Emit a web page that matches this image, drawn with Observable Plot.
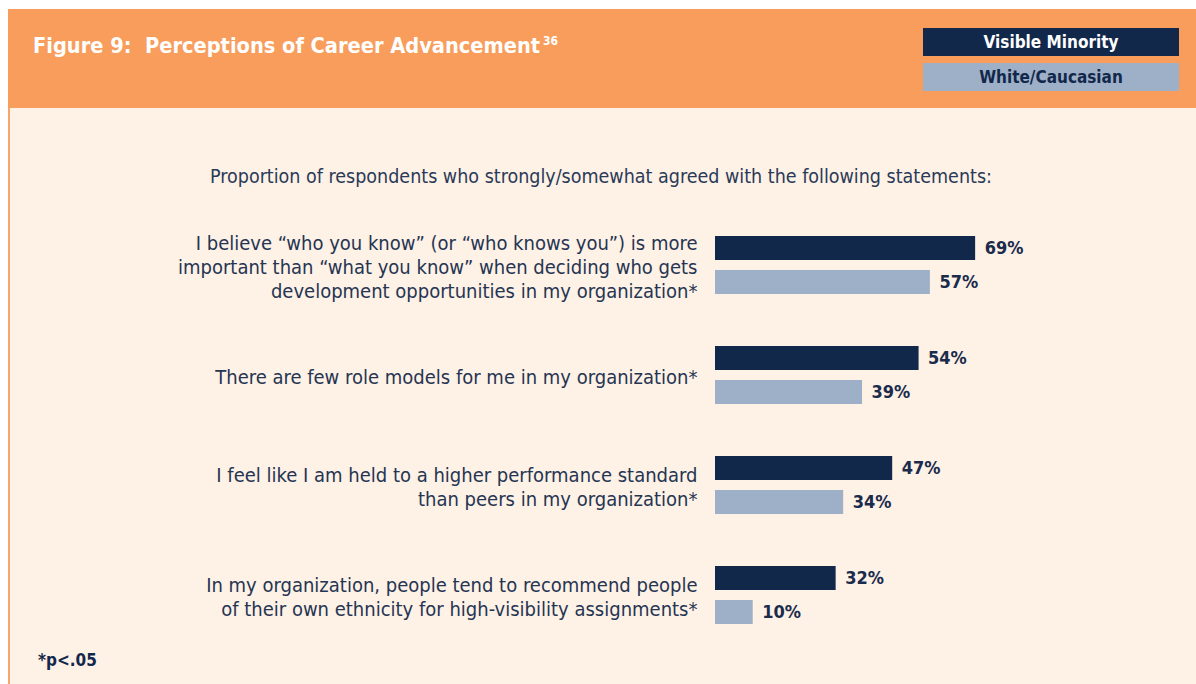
<!DOCTYPE html>
<html>
<head>
<meta charset="utf-8">
<script src="https://cdn.jsdelivr.net/npm/d3@7"></script>
<script src="https://cdn.jsdelivr.net/npm/@observablehq/plot@0.6"></script>
<style>
  html, body { margin:0; padding:0; background:#ffffff; }
  body { width:1196px; height:684px; position:relative; overflow:hidden;
         font-family:"Liberation Sans Narrow","DejaVu Sans Condensed","Roboto Condensed",Roboto,sans-serif; font-stretch:condensed; }
  #header { position:absolute; left:8px; top:9px; width:1200px; height:99px; background:#F89D5B; }
  #body { position:absolute; left:8px; top:108px; width:1200px; height:600px; background:#FEF1E6; border-left:2px solid #F7A56A; box-sizing:border-box; }
  #title { position:absolute; left:33px; top:33px; color:#ffffff; font-weight:bold; font-size:21.6px; white-space:pre; }
  #title sup { font-size:12px; vertical-align:top; position:relative; top:1px; margin-left:3px; }
  .leg { position:absolute; left:923px; width:256px; height:28px; line-height:29px; text-align:center; font-weight:bold; font-size:17px; }
  #leg1 { top:28px; background:#12284B; color:#ffffff; }
  #leg2 { top:63px; background:#9EB0C7; color:#12284B; }
  #subtitle { position:absolute; left:0; width:1202px; top:165px; text-align:center; font-size:19.5px; color:#2A3A57; }
  #chart { position:absolute; left:0; top:220px; }
  #foot { position:absolute; left:38px; top:650px; font-weight:bold; font-size:17px; color:#12284B; }
</style>
</head>
<body>
<div id="header"></div>
<div id="body"></div>
<div id="title">Figure 9:  Perceptions of Career Advancement<sup>36</sup></div>
<div class="leg" id="leg1">Visible Minority</div>
<div class="leg" id="leg2">White/Caucasian</div>
<div id="subtitle">Proportion of respondents who strongly/somewhat agreed with the following statements:</div>
<div id="chart"></div>
<div id="foot">*p&lt;.05</div>
<script>
const statements = [
  "I believe “who you know” (or “who knows you”) is more\nimportant than “what you know” when deciding who gets\ndevelopment opportunities in my organization*",
  "There are few role models for me in my organization*",
  "I feel like I am held to a higher performance standard\nthan peers in my organization*",
  "In my organization, people tend to recommend people\nof their own ethnicity for high-visibility assignments*"
];
const seriesNames = ["Visible Minority", "White/Caucasian"];
const visibleMinority = [69, 54, 47, 32];
const whiteCaucasian = [57, 39, 34, 10];
const seriesColors = ["#12284B", "#9EB0C7"];

const data = statements.flatMap((s, i) => [
  {statement: s, group: seriesNames[0], value: visibleMinority[i]},
  {statement: s, group: seriesNames[1], value: whiteCaucasian[i]}
]);

const font = '"Liberation Sans Narrow","DejaVu Sans Condensed","Roboto Condensed",Roboto,sans-serif';

const chart = Plot.plot({
  width: 1196,
  height: 420,
  marginLeft: 715,
  marginRight: 104,
  marginTop: 16,
  marginBottom: 15,
  style: {background: "transparent", fontFamily: font},
  x: {domain: [0, 100], axis: null},
  y: {domain: seriesNames, axis: null, paddingInner: 0.294, paddingOuter: 0},
  fy: {domain: statements, axis: null, paddingInner: 0.465, paddingOuter: 0},
  color: {domain: seriesNames, range: seriesColors},
  marks: [
    Plot.barX(data, {x: "value", y: "group", fy: "statement", fill: "group"}),
    Plot.text(data, {
      x: "value", y: "group", fy: "statement",
      text: d => d.value + "%",
      textAnchor: "start", dx: 9,
      fill: "#1A2B4C", fontWeight: "bold", fontSize: 18
    }),
    Plot.text(statements, {
      fy: d => d, x: () => 0, text: d => d,
      frameAnchor: "middle",
      textAnchor: "end", dx: -18, lineHeight: 1.2,
      fill: "#253552", fontSize: 20
    })
  ]
});
document.getElementById("chart").appendChild(chart);
</script>
</body>
</html>
